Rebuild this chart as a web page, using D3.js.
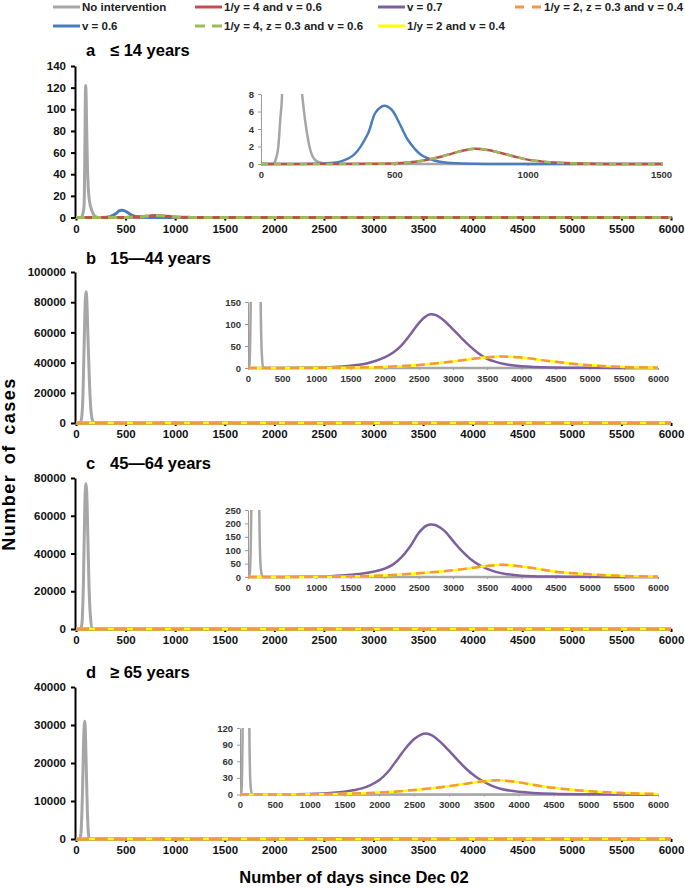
<!DOCTYPE html>
<html>
<head>
<meta charset="utf-8">
<script src="https://cdn.jsdelivr.net/npm/d3@7"></script>
<style>
  body { margin: 0; background: #fff; }
  text { font-family: "Liberation Sans", Arial, sans-serif; }
</style>
</head>
<body>
<div id="chart-area"></div>
<script>
const W = 685, H = 888

// ---- data ----
// panel a (<= 14 years)
const grayDaysA = [0, 45, 55, 65, 72, 79, 85, 90, 95, 98, 102, 108, 115, 125, 140, 154, 170, 185, 205, 230, 260, 6000]
const grayValsA = [0, 0, 0.5, 2, 5, 8, 25, 70, 115, 122, 112, 80, 48, 25, 13, 8, 4, 1.6, 0.4, 0.1, 0, 0]
const blueDays = [0, 200, 250, 300, 350, 400, 430, 462, 490, 520, 550, 600, 650, 700, 800, 1000, 6000]
const blueVals = [0, 0.02, 0.08, 0.3, 1.1, 3.4, 5.9, 6.65, 6.2, 4.6, 2.8, 1.05, 0.4, 0.15, 0.03, 0, 0]
const redDays = [0, 400, 500, 550, 600, 650, 700, 750, 800, 850, 900, 950, 1000, 1050, 1100, 1200, 1300, 6000]
const redVals = [0, 0.02, 0.08, 0.18, 0.35, 0.65, 1.05, 1.48, 1.74, 1.6, 1.25, 0.85, 0.5, 0.3, 0.17, 0.05, 0.01, 0]
const greenVals = [0, 0.02, 0.08, 0.18, 0.35, 0.65, 1.05, 1.48, 1.74, 1.6, 1.25, 0.85, 0.5, 0.3, 0.17, 0.05, 0.01, 0]

// panels b-d share day grids for the intervention curves
const purpleDays = [0, 500, 1000, 1250, 1500, 1625, 1750, 1875, 2000, 2125, 2250, 2375, 2500, 2600, 2670, 2750, 2875, 3000, 3125, 3250, 3375, 3500, 3625, 3750, 4000, 4500, 5000, 5500, 6000]
const orangeDays = [0, 1000, 1500, 2000, 2500, 3000, 3250, 3500, 3720, 4000, 4250, 4500, 5000, 5500, 6000]

// panel b (15-44 years)
const grayDaysB = [0, 20, 40, 55, 70, 85, 95, 102, 110, 120, 135, 150, 165, 186, 200, 220, 250, 6000]
const grayValsB = [0, 5, 150, 2500, 18000, 60000, 83000, 87000, 80000, 58000, 28000, 9000, 2000, 150, 40, 3, 0, 0]
const purpleValsB = [0, 0.2, 1, 2.2, 5, 7.5, 11, 16.5, 24, 35, 52, 76, 102, 117, 122, 120, 107, 88, 68, 49, 33, 21, 14, 9, 4, 1, 0.4, 0.1, 0]
const orangeValsB = [0, 0.3, 1, 2.5, 7, 15, 20, 24.5, 26, 24, 19, 14, 6, 2.5, 0.8]
const yellowValsB = [0, 0.3, 1, 2.5, 7, 15, 20, 24.5, 26, 24, 19, 14, 6, 2.5, 0.8]

// panel c (45-64 years)
const grayDaysC = [0, 25, 48, 60, 75, 90, 100, 108, 118, 130, 145, 165, 185, 210, 240, 6000]
const grayValsC = [0, 10, 250, 3000, 25000, 68000, 77000, 73000, 52000, 25000, 7000, 250, 40, 3, 0, 0]
const purpleValsC = [0, 0.3, 1.5, 3.5, 8, 11, 16, 22, 31, 47, 75, 115, 165, 190, 196, 193, 172, 135, 98, 68, 46, 30, 19, 12, 5, 1.5, 0.5, 0.2, 0]
const orangeValsC = [0, 0.6, 2, 6, 14, 25, 33, 41, 46, 39, 30, 20, 10, 4, 1.5]
const yellowValsC = [0, 0.6, 2, 6, 14, 25, 33, 41, 46, 39, 30, 20, 10, 4, 1.5]

// panel d (>= 65 years)
const grayDaysD = [0, 20, 38, 50, 65, 78, 88, 95, 105, 115, 125, 134, 150, 170, 200, 6000]
const grayValsD = [0, 5, 120, 1500, 12000, 27000, 31000, 28000, 17000, 7000, 1500, 120, 20, 2, 0, 0]
const purpleValsD = [0, 0.2, 1, 2.2, 5, 7.5, 11, 17, 26, 41, 62, 83, 100, 108, 110, 107, 95, 79, 62, 46, 33, 23, 15, 10, 5, 1.2, 0.4, 0.1, 0]
const orangeValsD = [0, 0.4, 1.3, 3.5, 8, 15, 19.5, 24, 25.5, 22, 16.5, 12, 6, 2.5, 1]
const yellowValsD = [0, 0.4, 1.3, 3.5, 8, 15, 19.5, 24, 25.5, 22, 16.5, 12, 6, 2.5, 1]

// axis ticks
const mainXTicks = d3.range(0, 6001, 500)
const yTicksA = [0, 20, 40, 60, 80, 100, 120, 140]
const yTicksB = [0, 20000, 40000, 60000, 80000, 100000]
const yTicksC = [0, 20000, 40000, 60000, 80000]
const yTicksD = [0, 10000, 20000, 30000, 40000]
const insetXTicksA = [0, 500, 1000, 1500]
const insetXTicks = d3.range(0, 6001, 500)
const insetYTicksA = [0, 2, 4, 6, 8]
const insetYTicksB = [0, 50, 100, 150]
const insetYTicksC = [0, 50, 100, 150, 200, 250]
const insetYTicksD = [0, 30, 60, 90, 120]

const titles = [["a", "\u2264 14 years"], ["b", "15\u201444 years"], ["c", "45\u201464 years"], ["d", "\u2265 65 years"]]

const COL = {
  gray: "#a6a6a6", blue: "#4a7ebb", red: "#c0504d", purple: "#7d5fa0",
  green: "#9bbb59", orange: "#f79646", yellow: "#ffff00"
}

const legendItems = [
  { row: 0, x: 53, color: COL.gray, dash: null, label: "No intervention" },
  { row: 0, x: 195, color: COL.red, dash: null, label: "1/y = 4 and v = 0.6" },
  { row: 0, x: 378, color: COL.purple, dash: null, label: "v = 0.7" },
  { row: 0, x: 515, color: COL.orange, dash: "9,8", label: "1/y = 2, z = 0.3 and v = 0.4" },
  { row: 1, x: 53, color: COL.blue, dash: null, label: "v = 0.6" },
  { row: 1, x: 195, color: COL.green, dash: "10,7", label: "1/y = 4, z = 0.3 and v = 0.6" },
  { row: 1, x: 378, color: COL.yellow, dash: null, label: "1/y = 2 and v = 0.4" }
]

const zip = (days, vals) => days.map((d, i) => ({ d: d, v: vals[i] }))

const panels = [
  {
    top: 66, bottom: 217.5, titleY: 50, yMax: 140, yTicks: yTicksA,
    series: [
      { data: zip(grayDaysA, grayValsA), color: COL.gray, spike: true },
      { data: zip(blueDays, blueVals), color: COL.blue },
      { data: zip(redDays, redVals), color: COL.red },
      { data: zip(redDays, greenVals), color: COL.green, dash: true }
    ],
    inset: { x0: 261, x1: 661, top: 94, bottom: 164, xMax: 1500, xTicks: insetXTicksA, yMax: 8, yTicks: insetYTicksA }
  },
  {
    top: 272, bottom: 423, titleY: 258, yMax: 100000, yTicks: yTicksB,
    series: [
      { data: zip(grayDaysB, grayValsB), color: COL.gray, spike: true },
      { data: zip(purpleDays, purpleValsB), color: COL.purple },
      { data: zip(orangeDays, yellowValsB), color: COL.yellow },
      { data: zip(orangeDays, orangeValsB), color: COL.orange, dash: true }
    ],
    inset: { x0: 248, x1: 658, top: 302, bottom: 368, xMax: 6000, xTicks: insetXTicks, yMax: 150, yTicks: insetYTicksB }
  },
  {
    top: 478, bottom: 629, titleY: 463, yMax: 80000, yTicks: yTicksC,
    series: [
      { data: zip(grayDaysC, grayValsC), color: COL.gray, spike: true },
      { data: zip(purpleDays, purpleValsC), color: COL.purple },
      { data: zip(orangeDays, yellowValsC), color: COL.yellow },
      { data: zip(orangeDays, orangeValsC), color: COL.orange, dash: true }
    ],
    inset: { x0: 248, x1: 658, top: 510, bottom: 577, xMax: 6000, xTicks: insetXTicks, yMax: 250, yTicks: insetYTicksC }
  },
  {
    top: 687, bottom: 839, titleY: 672, yMax: 40000, yTicks: yTicksD,
    series: [
      { data: zip(grayDaysD, grayValsD), color: COL.gray, spike: true },
      { data: zip(purpleDays, purpleValsD), color: COL.purple },
      { data: zip(orangeDays, yellowValsD), color: COL.yellow },
      { data: zip(orangeDays, orangeValsD), color: COL.orange, dash: true }
    ],
    inset: { x0: 240, x1: 658, top: 728, bottom: 794.5, xMax: 6000, xTicks: insetXTicks, yMax: 120, yTicks: insetYTicksD }
  }
]

const fmt = d3.format("d")

const svg = d3.select("#chart-area").append("svg")
  .attr("width", W)
  .attr("height", H)

const defs = svg.append("defs")

// legend
const leg = svg.append("g")
legendItems.forEach(it => {
  const y = it.row === 0 ? 7 : 26
  leg.append("line")
    .attr("x1", it.x).attr("x2", it.x + 27)
    .attr("y1", y).attr("y2", y)
    .attr("stroke", it.color)
    .attr("stroke-width", 3)
    .attr("stroke-dasharray", it.dash)
  leg.append("text")
    .attr("x", it.x + 29)
    .attr("y", y + 4)
    .attr("font-size", "11.5px")
    .attr("font-weight", "bold")
    .attr("fill", "#222")
    .text(it.label)
})

const x = d3.scaleLinear().domain([0, 6000]).range([76, 671])

function styleText(sel, size, color) {
  sel.selectAll("text")
    .attr("font-size", size).attr("font-weight", "bold").attr("fill", color)
    .attr("font-family", "Liberation Sans, Arial, sans-serif")
}

panels.forEach((p, i) => {
  const g = svg.append("g")
  const y = d3.scaleLinear().domain([0, p.yMax]).range([p.bottom, p.top])

  // title
  g.append("text")
    .attr("x", 86).attr("y", p.titleY + 6)
    .attr("font-size", "16.5px").attr("font-weight", "bold")
    .text(titles[i][0])
  g.append("text")
    .attr("x", 110).attr("y", p.titleY + 6)
    .attr("font-size", "16.5px").attr("font-weight", "bold")
    .text(titles[i][1])

  const line = s => d3.line()
    .x(d => x(d.d))
    .y(d => y(d.v))
    .curve(s.spike ? d3.curveMonotoneX : d3.curveCatmullRom.alpha(0.5))

  // x axis
  const xAxis = g.append("g")
    .attr("transform", `translate(0, ${p.bottom})`)
    .call(d3.axisBottom(x).tickValues(mainXTicks).tickFormat(fmt).tickSize(3).tickPadding(4).tickSizeOuter(0))
  xAxis.select(".domain").attr("stroke", "#000").attr("stroke-width", 2)
  xAxis.selectAll(".tick line").attr("stroke", "#000").attr("stroke-width", 2)
  styleText(xAxis, "11.5px", "#111")

  // y axis
  const yAxis = g.append("g")
    .attr("transform", `translate(75, 0)`)
    .call(d3.axisLeft(y).tickValues(p.yTicks).tickFormat(fmt).tickSize(4).tickPadding(5).tickSizeOuter(0))
  yAxis.select(".domain").attr("stroke", "#000").attr("stroke-width", 2)
  yAxis.selectAll(".tick line").attr("stroke", "#000").attr("stroke-width", 2)
  styleText(yAxis, "11.5px", "#111")

  p.series.forEach(s => {
    g.append("path")
      .datum(s.data)
      .attr("fill", "none")
      .attr("stroke", s.color)
      .attr("stroke-width", 3)
      .attr("stroke-dasharray", s.dash ? (i === 0 ? "9,7" : "13,6") : null)
      .attr("d", line(s))
  })

  // inset
  const ins = p.inset
  const ix = d3.scaleLinear().domain([0, ins.xMax]).range([ins.x0, ins.x1])
  const iy = d3.scaleLinear().domain([0, ins.yMax]).range([ins.bottom, ins.top])
  const clipId = "clip" + i
  defs.append("clipPath").attr("id", clipId)
    .append("rect")
    .attr("x", ins.x0).attr("y", ins.top)
    .attr("width", ins.x1 - ins.x0 + 2).attr("height", ins.bottom - ins.top + 3)

  const ig = svg.append("g")
  ig.append("g")
    .attr("transform", `translate(0, ${ins.bottom})`)
    .call(d3.axisBottom(ix).tickValues(ins.xTicks).tickFormat(fmt).tickSize(2).tickPadding(5).tickSizeOuter(0))
  ig.append("g")
    .attr("transform", `translate(${ins.x0}, 0)`)
    .call(d3.axisLeft(iy).tickValues(ins.yTicks).tickFormat(fmt).tickSize(3).tickPadding(4).tickSizeOuter(0))
  ig.selectAll(".domain, .tick line").attr("stroke", "#9a9a9a").attr("stroke-width", 1)
  styleText(ig, "9.5px", "#333")

  const iline = s => d3.line()
    .x(d => ix(d.d))
    .y(d => iy(d.v))
    .curve(s.spike ? d3.curveMonotoneX : d3.curveCatmullRom.alpha(0.5))

  const lines = ig.append("g").attr("clip-path", `url(#${clipId})`)
  p.series.forEach(s => {
    lines.append("path")
      .datum(s.data.filter(d => d.d <= ins.xMax || d.d === 6000))
      .attr("fill", "none")
      .attr("stroke", s.color)
      .attr("stroke-width", 2.5)
      .attr("stroke-dasharray", s.dash ? (i === 0 ? "7,6" : "9,5") : null)
      .attr("d", iline(s))
  })
})

// axis titles
svg.append("text")
  .attr("transform", "translate(15, 464) rotate(-90)")
  .attr("text-anchor", "middle")
  .attr("font-size", "18px")
  .attr("font-weight", "bold")
  .attr("letter-spacing", "1.5px")
  .attr("word-spacing", "3px")
  .text("Number of cases")

svg.append("text")
  .attr("x", 354).attr("y", 883)
  .attr("text-anchor", "middle")
  .attr("font-size", "16.5px")
  .attr("font-weight", "bold")
  .text("Number of days since Dec 02")
</script>
</body>
</html>
